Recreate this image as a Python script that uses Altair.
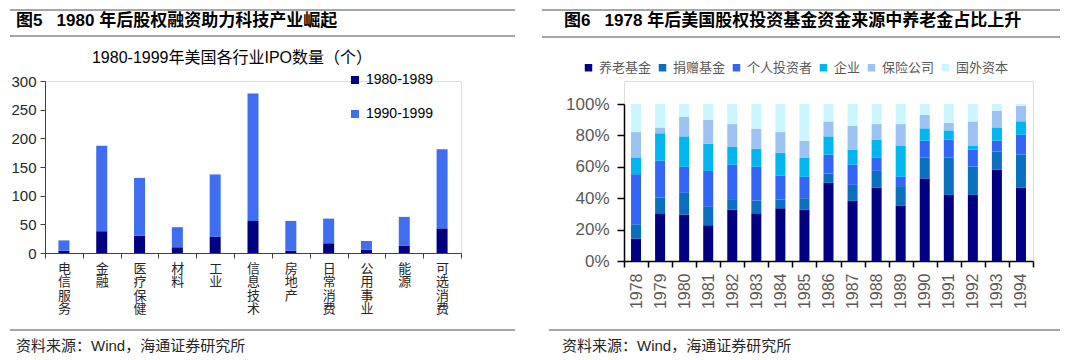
import altair as alt
import pandas as pd

FONT = "Liberation Sans, Arial, Noto Sans CJK SC"

# ---------- left chart data ----------
industries = ["电信服务", "金融", "医疗保健", "材料", "工业", "信息技术",
              "房地产", "日常消费", "公用事业", "能源", "可选消费"]
ipo_1980s = [4, 38, 30, 10, 28, 56, 4, 17, 6, 13, 43]
ipo_1990s = [18, 149, 101, 35, 109, 222, 52, 43, 15, 50, 138]
periods = ["1980-1989", "1990-1999"]
left_colors = ["#000080", "#3F6FF0"]
left_ticks = [0, 50, 100, 150, 200, 250, 300]

# ---------- right chart data ----------
years = ["1978", "1979", "1980", "1981", "1982", "1983", "1984", "1985", "1986",
         "1987", "1988", "1989", "1990", "1991", "1992", "1993", "1994"]
sources = ["养老基金", "捐赠基金", "个人投资者", "企业", "保险公司", "国外资本"]
pension = [14.3, 30.4, 29.6, 22.8, 32.6, 30.4, 33.6, 32.6, 49.8, 38.3, 46.6, 35.1, 52.6, 42.1, 42.1, 58.3, 46.6]
endowment = [9.1, 10.0, 13.8, 11.7, 6.8, 8.1, 5.5, 7.4, 5.9, 10.2, 10.8, 12.6, 13.4, 23.9, 18.1, 11.5, 21.3]
individual = [31.9, 23.4, 16.6, 22.9, 21.9, 21.5, 15.4, 13.6, 12.0, 12.8, 8.6, 5.9, 10.6, 11.4, 10.7, 6.8, 12.5]
corporate = [10.7, 17.5, 19.4, 17.3, 11.3, 11.5, 14.4, 12.1, 11.7, 9.6, 11.2, 20.0, 7.9, 5.8, 2.7, 8.5, 8.6]
insurance = [16.1, 3.8, 12.5, 15.3, 14.6, 12.8, 13.2, 10.9, 9.5, 15.3, 10.0, 13.6, 8.5, 4.9, 15.3, 10.6, 9.7]
foreign = [17.9, 14.9, 8.1, 10.0, 12.8, 15.7, 17.9, 23.4, 11.1, 13.8, 12.8, 12.8, 7.0, 11.9, 11.1, 4.3, 1.3]
right_colors = ["#000080", "#0B6FBF", "#3366F5", "#00B6EE", "#9CC3F2", "#CCF6FF"]
right_ticks = [0, 0.2, 0.4, 0.6, 0.8, 1.0]

# ---------- tables ----------
rows1 = []
for i, ind in enumerate(industries):
    rows1.append({"industry": ind, "period": periods[0], "count": ipo_1980s[i], "ord": 0})
    rows1.append({"industry": ind, "period": periods[1], "count": ipo_1990s[i], "ord": 1})
df1 = pd.DataFrame(rows1)

series = [pension, endowment, individual, corporate, insurance, foreign]
rows2 = []
for j, src in enumerate(sources):
    for i, yr in enumerate(years):
        rows2.append({"year": yr, "source": src, "share": series[j][i], "ord": j})
df2 = pd.DataFrame(rows2)

one = pd.DataFrame({"k": [0]})
LINE = "#A6A6A6"
NB = "\u00a0"

W1, H1 = 416, 172
W2, H2 = 409, 180


def rule(x1, x2, y):
    return alt.Chart(one).mark_rule(color=LINE, strokeWidth=2).encode(
        x=alt.value(x1), x2=alt.value(x2), y=alt.value(y))


def txt(s, x, y, size, weight="normal", color="#000000", align="left"):
    return alt.Chart(one).mark_text(text=s, align=align, baseline="middle", fontSize=size,
                                    fontWeight=weight, color=color, font=FONT).encode(
        x=alt.value(x), y=alt.value(y))


# ---------- left ----------
left_bars = alt.Chart(df1).mark_bar(size=11).encode(
    x=alt.X("industry:N", sort=industries,
            scale=alt.Scale(paddingInner=0, paddingOuter=0),
            axis=alt.Axis(title=None, labelAngle=0, labelExpr="split(datum.label, '')",
                          labelLineHeight=13.5, labelBaseline="top", labelAlign="center",
                          labelFontSize=13, labelColor="#262626", labelFont=FONT,
                          tickBand="extent", tickSize=5, tickColor="#404040",
                          domainColor="#404040", labelPadding=4)),
    y=alt.Y("count:Q", stack="zero", scale=alt.Scale(domain=[0, 300]),
            axis=alt.Axis(title=None, values=left_ticks, grid=False, labelFontSize=15,
                          labelColor="#262626", labelFont=FONT, tickSize=5,
                          tickColor="#404040", domainColor="#404040", labelPadding=4)),
    color=alt.Color("period:N", scale=alt.Scale(domain=periods, range=left_colors),
                    legend=alt.Legend(title=None, orient="none", legendX=303, legendY=-8,
                                      direction="vertical", symbolType="square",
                                      symbolSize=64, symbolStrokeWidth=0,
                                      labelFontSize=14, labelColor="#000000",
                                      labelFont=FONT, rowPadding=20, labelOffset=4)),
    order=alt.Order("ord:Q"),
).properties(width=W1, height=H1)

left = alt.layer(
    left_bars,
    rule(-35, 470, -71),
    txt("图5" + NB + NB + NB + "1980 年后股权融资助力科技产业崛起", -29, -60, 17, "bold"),
    rule(-35, 470, -45),
    txt("1980-1999年美国各行业IPO数量（个）", 187, -23, 16, align="center"),
    rule(-35, 470, 249),
    txt("资料来源：Wind，海通证券研究所", -29, 265, 15, color="#262626"),
)

# ---------- right ----------
right_bars = alt.Chart(df2).mark_bar(size=10).encode(
    x=alt.X("year:O", sort=years,
            scale=alt.Scale(paddingInner=0, paddingOuter=0),
            axis=alt.Axis(title=None, labelAngle=-90, labelAlign="right", labelBaseline="middle",
                          labelFontSize=16, labelColor="#595959", labelFont=FONT,
                          tickBand="extent", tickSize=6, tickWidth=1.5, tickColor="#000000",
                          domainColor="#000000", domainWidth=1.5, labelPadding=6)),
    y=alt.Y("share:Q", stack="normalize", scale=alt.Scale(domain=[0, 1], range=[H2, 23]),
            axis=alt.Axis(title=None, values=right_ticks, format=".0%", grid=False,
                          labelFontSize=17, labelColor="#595959", labelFont=FONT,
                          tickSize=7, tickColor="#000000", domainColor="#000000",
                          domainWidth=1.5, tickWidth=1.5, labelPadding=8)),
    color=alt.Color("source:N", scale=alt.Scale(domain=sources, range=right_colors),
                    legend=alt.Legend(title=None, orient="none", legendX=-42, legendY=-20,
                                      direction="horizontal", columns=6, symbolType="square",
                                      symbolSize=56, symbolStrokeWidth=0,
                                      labelFontSize=13, labelColor="#595959",
                                      labelFont=FONT, columnPadding=4, labelOffset=4)),
    order=alt.Order("ord:Q"),
).properties(width=W2, height=H2)

right = alt.layer(
    right_bars,
    rule(-82, 436, -71),
    txt("图6" + NB + NB + NB + "1978 年后美国股权投资基金资金来源中养老金占比上升", -60, -60, 17, "bold"),
    rule(-82, 436, -44),
    rule(-75, 436, 249),
    txt("资料来源：Wind，海通证券研究所", -62, 265, 15, color="#262626"),
)

chart = alt.hconcat(left, right, spacing=163, bounds="flush").resolve_scale(
    color="independent"
).properties(padding=0).configure_view(stroke=None).configure(font=FONT)

chart.save("out.html", embed_options={"renderer": "svg", "actions": False})
